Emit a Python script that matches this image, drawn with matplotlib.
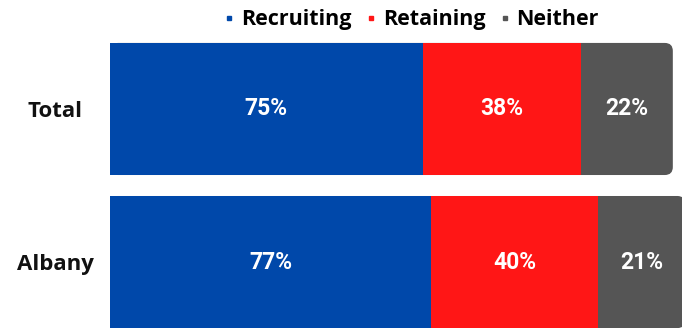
import matplotlib.pyplot as plt
from matplotlib.patches import FancyBboxPatch
from matplotlib.lines import Line2D

groups = ['Total', 'Albany']
recruiting = [75, 77]
retaining = [38, 40]
neither = [22, 21]
series_names = ['Recruiting', 'Retaining', 'Neither']
colors = ['#0048AA', '#FF1616', '#555555']

plt.rcParams['font.family'] = ['Open Sans', 'DejaVu Sans']

fig = plt.figure(figsize=(6.82, 3.28), dpi=100)
ax = fig.add_axes([110 / 682, 0, 1 - 110 / 682, 1])

y = list(range(len(groups)))
h = 0.863
px_x = 572 / 137.2   # pixels per x unit
px_y = 328 / 2.143   # pixels per y unit

# gray segment drawn as a rounded box spanning the whole row, the other
# segments cover its left part so only the right end shows the rounding
for yi, a, b, c in zip(y, recruiting, retaining, neither):
    total = a + b + c
    box = FancyBboxPatch((0, yi - h / 2), total, h,
                         boxstyle='round,pad=0,rounding_size=%.3f' % (8 / px_x),
                         mutation_aspect=px_x / px_y,
                         facecolor=colors[2], edgecolor='none', zorder=1)
    ax.add_patch(box)

ax.barh(y, recruiting, height=h, color=colors[0], zorder=2)
ax.barh(y, retaining, left=recruiting, height=h, color=colors[1], zorder=2)

for yi, a, b, c in zip(y, recruiting, retaining, neither):
    for start, val in [(0, a), (a, b), (a + b, c)]:
        ax.text(start + val / 2, yi, f'{val}%', ha='center', va='center',
                color='white', fontsize=16.5, fontweight='bold', zorder=3,
                family=['Roboto', 'DejaVu Sans'])

ax.set_xlim(0, 137.2)
ax.set_ylim(1.431, -0.712)
ax.axis('off')

for yi, g in zip(y, groups):
    ax.text(-13.2, yi + 0.015, g, ha='center', va='center', fontsize=16,
            fontweight='bold', color='#111111')

handles = [Line2D([], [], marker='s', linestyle='none', markersize=3.5,
                  color=c) for c in colors]
fig.legend(handles, series_names, loc='center', bbox_to_anchor=(0.604, 0.94),
           ncol=3, frameon=False, handlelength=0.4, handletextpad=0.35,
           columnspacing=0.7, prop={'size': 15.5, 'weight': 'bold'})

fig.savefig('out.png', dpi=100)
